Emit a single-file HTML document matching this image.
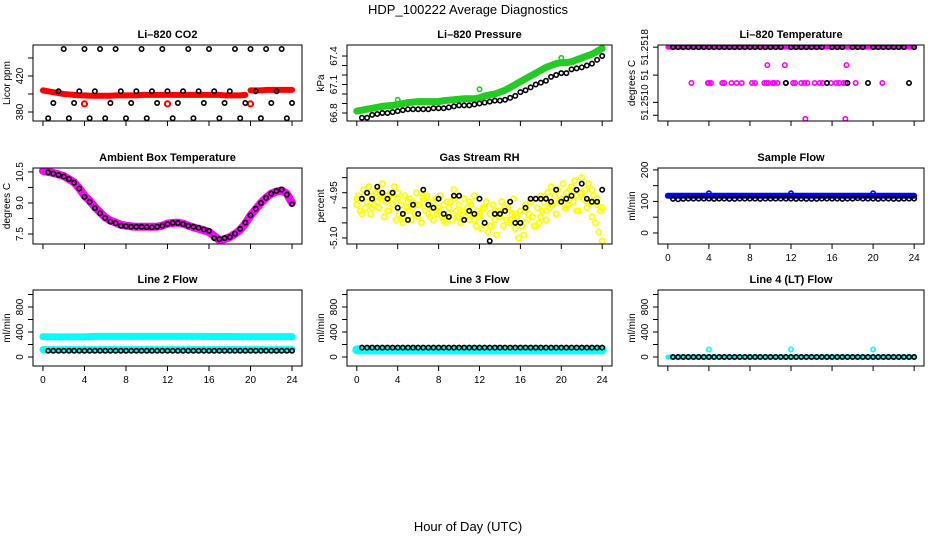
<!DOCTYPE html>
<html><head><meta charset="utf-8"><title>HDP_100222 Average Diagnostics</title>
<style>
html,body{margin:0;padding:0;background:#fff;}
svg{display:block;font-family:"Liberation Sans",sans-serif;}
.t{font-weight:bold;font-size:11px;}
.tk{font-size:10px;}
</style></head>
<body>
<svg id="chart" width="936" height="540" viewBox="0 0 936 540" xmlns="http://www.w3.org/2000/svg">
<text x="468" y="14" text-anchor="middle" font-size="13">HDP_100222  Average Diagnostics</text>
<text x="468" y="531" text-anchor="middle" font-size="13">Hour of Day (UTC)</text>
</svg>
<script>
// ---------- data ----------
const xTicks = [0,4,8,12,16,20,24];
const halfHours = [0.5,1,1.5,2,2.5,3,3.5,4,4.5,5,5.5,6,6.5,7,7.5,8,8.5,9,9.5,10,10.5,11,11.5,12,12.5,13,13.5,14,14.5,15,15.5,16,16.5,17,17.5,18,18.5,19,19.5,20,20.5,21,21.5,22,22.5,23,23.5,24];
const bandHours = [0,0.5,1,1.5,2,2.5,3,3.5,4,4.5,5,5.5,6,6.5,7,7.5,8,8.5,9,9.5,10,10.5,11,11.5,12,12.5,13,13.5,14,14.5,15,15.5,16,16.5,17,17.5,18,18.5,19,19.5,20,20.5,21,21.5,22,22.5,23,23.5,24];
const hourly = [0,1,2,3,4,5,6,7,8,9,10,11,12,13,14,15,16,17,18,19,20,21,22,23,24];

// CO2
const co2Band = [404,403,402,401,400,399.5,399,398.5,398.5,398,398,398,398,398,398.5,398.5,398.5,398.5,398.5,399,399,399,399,399,399,399,399,399,399,399,399,399,399,399,399,398.5,398.5,398.5,398.5,399,404,404,404,404.5,404.5,404.5,404.5,404.5,404.5];
const co2CalHours = [4,12,20];
const co2CalVals = [389,389,389];
const co2Black = [373,390,403,450,373,390,403,450,373,403,450,373,390,450,403,373,390,403,450,373,403,390,450,403,373,390,403,450,373,403,390,450,403,373,390,403,450,373,390,450,403,373,450,390,403,450,373,390];

// Pressure
const presBand = [66.82,66.83,66.84,66.85,66.86,66.87,66.875,66.88,66.89,66.9,66.91,66.915,66.92,66.92,66.92,66.92,66.92,66.93,66.935,66.94,66.945,66.95,66.95,66.95,66.96,66.98,66.99,67.0,67.02,67.04,67.07,67.1,67.13,67.16,67.19,67.22,67.25,67.28,67.3,67.32,67.33,67.33,67.34,67.36,67.38,67.4,67.42,67.45,67.48];
const presOutHours = [4,12,20];
const presOutVals = [66.94,67.05,67.38];
const presBlack = [66.75,66.75,66.78,66.79,66.8,66.8,66.81,66.82,66.83,66.84,66.84,66.84,66.84,66.84,66.85,66.85,66.85,66.86,66.87,66.88,66.88,66.88,66.89,66.9,66.91,66.92,66.93,66.93,66.94,66.96,66.98,67.02,67.04,67.07,67.1,67.12,67.14,67.18,67.2,67.22,67.22,67.26,67.27,67.28,67.3,67.32,67.36,67.4];

// Li-820 temperature
const tempBand = [51.2518,51.2518,51.2518,51.2518,51.2518,51.2518,51.2518,51.2518,51.2518,51.2518,51.2518,51.2518,51.2518,51.2518,51.2518,51.2518,51.2518,51.2518,51.2518,51.2518,51.2518,51.2518,51.2518,51.2518,51.2518];
const tempOffHours = [2.3,3.9,4.0,4.2,5.3,5.5,6.2,6.7,7.2,8.2,8.5,9.4,9.6,9.8,10.2,10.4,10.7,11.5,12.2,12.4,13.0,13.3,13.6,14.3,14.8,15.1,15.9,16.4,16.7,17.1,17.3,18.3,20.9,9.7,11.4,17.4,13.4,17.3];
const tempOffVals = [51.2513,51.2513,51.2513,51.2513,51.2513,51.2513,51.2513,51.2513,51.2513,51.2513,51.2513,51.2513,51.2513,51.2513,51.2513,51.2513,51.2513,51.2513,51.2513,51.2513,51.2513,51.2513,51.2513,51.2513,51.2513,51.2513,51.2513,51.2513,51.2513,51.2513,51.2513,51.2513,51.2513,51.25155,51.25155,51.25155,51.2508,51.2508];
const tempBlackHours = [0.5,1,1.5,2,2.5,3,3.5,4,4.5,5,5.5,6,6.5,7,7.5,8,8.5,9,9.5,10,10.5,11,11.5,12,12.5,13,13.5,14,14.5,15,15.5,16,16.5,17,17.5,18,18.5,19,19.5,20,20.5,21,21.5,22,22.5,23,23.5,24];
const tempBlack = [51.2518,51.2518,51.2518,51.2518,51.2518,51.2518,51.2518,51.2518,51.2518,51.2518,51.2518,51.2518,51.2518,51.2518,51.2518,51.2518,51.2518,51.2518,51.2518,51.2518,51.2518,51.2518,51.2513,51.2518,51.2518,51.2518,51.2518,51.2518,51.2518,51.2518,51.2513,51.2518,51.2518,51.2518,51.2513,51.2518,51.2518,51.2518,51.2513,51.2518,51.2518,51.2518,51.2518,51.2518,51.2518,51.2518,51.2513,51.2518];

// Ambient box temperature
const ambBand = [10.55,10.5,10.45,10.38,10.3,10.15,10.0,9.7,9.35,9.1,8.8,8.55,8.3,8.15,8.05,7.95,7.9,7.87,7.85,7.85,7.85,7.85,7.85,7.9,8.0,8.03,8.05,8.0,7.9,7.82,7.75,7.68,7.6,7.4,7.2,7.25,7.35,7.5,7.7,8.0,8.4,8.7,9.0,9.25,9.45,9.55,9.6,9.45,9.0];
const ambBlack = [10.48,10.42,10.35,10.28,10.15,9.98,9.7,9.3,9.05,8.75,8.5,8.28,8.1,8.02,7.9,7.88,7.85,7.85,7.85,7.83,7.82,7.85,7.9,7.98,8.04,8.03,7.98,7.9,7.85,7.8,7.72,7.65,7.3,7.25,7.3,7.35,7.52,7.75,8.05,8.4,8.72,9.0,9.25,9.45,9.58,9.65,9.4,8.95];

// Gas stream RH (yellow every 10 minutes)
const rhYellow = [-4.99,-4.96,-5.01,-4.97,-4.94,-5.00,-4.98,-4.93,-5.02,-4.96,-4.99,-4.95,-4.94,-5.00,-4.97,-4.92,-5.03,-4.98,-4.96,-5.01,-4.95,-4.99,-4.93,-5.04,-4.97,-5.02,-4.99,-5.05,-4.96,-5.00,-5.01,-4.97,-5.04,-4.98,-5.02,-4.95,-5.03,-4.99,-5.05,-4.97,-5.01,-4.96,-4.98,-5.03,-5.00,-5.04,-4.97,-5.02,-5.00,-4.96,-5.03,-4.99,-5.05,-4.98,-5.02,-4.98,-5.04,-4.94,-5.01,-5.03,-4.99,-5.05,-5.01,-4.97,-5.03,-5.00,-5.04,-4.99,-5.02,-4.96,-5.06,-5.01,-5.03,-5.07,-5.00,-5.05,-4.98,-5.08,-5.02,-5.06,-4.99,-5.04,-5.09,-5.01,-5.03,-4.98,-5.06,-5.01,-5.04,-5.00,-5.05,-5.02,-4.97,-5.07,-5.03,-5.10,-5.01,-5.06,-5.09,-4.99,-5.04,-5.02,-4.98,-5.03,-5.06,-4.97,-5.00,-5.05,-4.96,-5.01,-4.98,-5.04,-4.95,-5.00,-4.93,-4.99,-4.96,-5.02,-4.94,-4.98,-4.97,-4.92,-5.00,-4.95,-4.99,-4.94,-4.93,-4.98,-4.91,-4.96,-5.01,-4.95,-4.90,-4.97,-4.94,-5.00,-4.92,-4.98,-5.03,-4.96,-5.05,-4.99,-5.08,-5.01,-5.11];
const rhYellowB = [-4.97,-5.02,-4.95,-5.00,-4.98,-4.96,-5.01,-4.97,-4.95,-5.03,-4.98,-5.00,-4.99,-4.96,-5.02,-4.98,-5.01,-5.04,-5.00,-4.97,-5.03,-5.01,-4.98,-5.04,-5.02,-5.00,-5.06,-5.01,-5.03,-5.00,-5.04,-5.02,-5.05,-5.01,-4.98,-5.06,-5.03,-5.01,-4.99,-5.02,-4.97,-5.00,-4.96,-5.01,-4.95,-4.98,-4.94,-4.97,-5.00];
const rhBlack = [-4.97,-4.95,-4.97,-4.93,-4.95,-4.97,-4.95,-5.00,-5.02,-5.04,-4.99,-5.02,-4.94,-4.99,-5.00,-4.97,-5.02,-5.03,-4.96,-4.96,-5.04,-5.01,-5.02,-4.97,-5.05,-5.11,-5.02,-5.02,-5.01,-4.98,-5.05,-5.05,-5.00,-4.97,-4.97,-4.97,-4.97,-4.98,-4.94,-4.98,-4.97,-4.96,-4.94,-4.92,-4.97,-4.98,-4.98,-4.94];

// Flows
const sampleBlue = [118,118,118,118,118,118,118,118,118,118,118,118,118,118,118,118,118,118,118,118,118,118,118,118,118];
const sampleOutHours = [4,12,20];
const sampleOutVals = [126,126,126];
const sampleBlack = [108,107,108,109,109,109,109,109,108,109,109,108,108,109,109,109,109,108,109,109,109,109,109,109,108,109,108,108,108,109,109,109,109,108,109,109,110,109,109,109,108,109,109,108,108,109,109,109];
const line2Upper = [325,323,322,323,322,330,330,330,330,330,330,330,330,330,330,330,328,328,328,326,326,326,326,326,326];
const line2Lower = [118,118,118,118,118,118,118,118,118,118,118,118,118,118,118,118,118,118,118,118,118,118,118,118,118];
const line2Black = [100,100,100,100,100,100,100,100,100,100,100,100,100,100,100,100,100,100,100,100,100,100,100,100,100,100,100,100,100,100,100,100,100,100,100,100,100,100,100,100,100,100,100,100,100,100,100,100];
const line3Cyan = [115,115,115,115,115,115,115,115,115,115,115,115,115,115,115,115,115,115,115,115,115,115,115,115,115];
const line3Black = [150,150,150,150,150,150,150,150,150,150,150,150,150,150,150,150,150,150,150,150,150,150,150,150,150,150,150,150,150,150,150,150,150,150,150,150,150,150,150,150,150,150,150,150,150,150,150,150];
const line4Cyan = [0,0,0,0,0,0,0,0,0,0,0,0,0,0,0,0,0,0,0,0,0,0,0,0,0];
const line4OutHours = [4,12,20];
const line4OutVals = [120,120,120];
const line4Black = [0,0,0,0,0,0,0,0,0,0,0,0,0,0,0,0,0,0,0,0,0,0,0,0,0,0,0,0,0,0,0,0,0,0,0,0,0,0,0,0,0,0,0,0,0,0,0,0];

// ---------- drawing ----------
const NS = "http://www.w3.org/2000/svg";
const svg = document.getElementById('chart');
const COLS = [[33,302],[347,612],[658,924]];
const ROWS = [[45,121],[168,244],[290,366]];
const XLIM = [-0.96,24.96];

function el(tag, parent){ const e=document.createElementNS(NS,tag); parent.appendChild(e); return e; }

function makePanel(key, col, row, title, ylab, ylim, yticks, ylabels){
  const [x0,x1]=COLS[col], [y0,y1]=ROWS[row];
  const g = el('g', svg);
  
  
  const sx = v => x0 + (v-XLIM[0])/(XLIM[1]-XLIM[0])*(x1-x0);
  const sy = v => y1 - (v-ylim[0])/(ylim[1]-ylim[0])*(y1-y0);
  const cp = el('clipPath', g); cp.id = 'clip-'+key;
  const cr = el('rect', cp); cr.setAttribute('x',x0); cr.setAttribute('y',y0); cr.setAttribute('width',x1-x0); cr.setAttribute('height',y1-y0);
  const plot = el('g', g);
  plot.setAttribute('clip-path','url(#clip-'+key+')');
  
  
  const box = el('rect', g);
  
  
  box.setAttribute('x',x0); box.setAttribute('y',y0); box.setAttribute('width',x1-x0); box.setAttribute('height',y1-y0);
  box.setAttribute('fill','none'); box.setAttribute('stroke','#000'); box.setAttribute('stroke-width','1');
  const t = el('text', g);
  
  
  t.setAttribute('class','t'); t.setAttribute('x',(x0+x1)/2); t.setAttribute('y',y0-7); t.setAttribute('text-anchor','middle');
  t.textContent = title;
  const yl = el('text', g);
  
  
  yl.setAttribute('class','tk'); yl.setAttribute('text-anchor','middle');
  yl.setAttribute('transform','translate('+(x0-23)+','+((y0+y1)/2)+') rotate(-90)');
  yl.textContent = ylab;
  xTicks.forEach(v=>{
    const l = el('line', g);
    
    
    l.setAttribute('x1',sx(v)); l.setAttribute('x2',sx(v)); l.setAttribute('y1',y1); l.setAttribute('y2',y1+5); l.setAttribute('stroke','#000');
    const tx = el('text', g);
    
    
    tx.setAttribute('class','tk'); tx.setAttribute('x',sx(v)); tx.setAttribute('y',y1+17); tx.setAttribute('text-anchor','middle');
    tx.textContent = String(v);
    if(!((row===1 && col===2) || row===2 && col!==2)) tx.setAttribute('visibility','hidden');
  });
  yticks.forEach((v,i)=>{
    const l = el('line', g);
    
    
    l.setAttribute('x1',x0-5); l.setAttribute('x2',x0); l.setAttribute('y1',sy(v)); l.setAttribute('y2',sy(v)); l.setAttribute('stroke','#000');
    if(ylabels[i]){
      const tx = el('text', g);
      
      
      tx.setAttribute('class','tk'); tx.setAttribute('text-anchor','middle');
      tx.setAttribute('transform','translate('+(x0-10)+','+sy(v)+') rotate(-90)');
      tx.textContent = ylabels[i];
    }
  });
  return {plot, sx, sy};
}

function points(p, xs, ys, color, name, r, sw){
  xs.forEach((x,i)=>{
    const c = el('circle', p.plot);
    
    
    c.setAttribute('cx', p.sx(x)); c.setAttribute('cy', p.sy(ys[i]));
    c.setAttribute('r', r||2.2); c.setAttribute('fill','none'); c.setAttribute('stroke',color); c.setAttribute('stroke-width', sw||1.6);
  });
}
function band(p, xs, ys, color, name, w){
  const pl = el('polyline', p.plot);
  
  
  pl.setAttribute('points', xs.map((x,i)=>p.sx(x)+','+p.sy(ys[i])).join(' '));
  pl.setAttribute('fill','none'); pl.setAttribute('stroke',color); pl.setAttribute('stroke-width',w||6);
  pl.setAttribute('stroke-linejoin','round'); pl.setAttribute('stroke-linecap','round');
}
function seg(arr,a,b){ return arr.slice(a,b); }

// Panel 1: CO2
let p = makePanel('co2',0,0,'Li\u2013820 CO2','Licor ppm',[370,454.4],[380,400,420,440],['380','','420','']);
band(p, seg(bandHours,0,40), seg(co2Band,0,40), '#ff0000','co2-red-series',6);
band(p, seg(bandHours,40,49), seg(co2Band,40,49), '#ff0000','co2-red-series-late',6);
points(p, co2CalHours, co2CalVals, '#ff0000','co2-red-calibration-point',2.6,2);
points(p, halfHours, co2Black, '#000','co2-black-point');

// Panel 2: Pressure
p = makePanel('pressure',1,0,'Li\u2013820 Pressure','kPa',[66.716,67.516],[66.8,66.9,67.0,67.1,67.2,67.3,67.4],['66.8','','','67.1','','','67.4']);
band(p, bandHours, presBand, '#22cc22','pressure-green-series',7);
points(p, presOutHours, presOutVals, '#22cc22','pressure-green-outlier');
points(p, halfHours, presBlack, '#000','pressure-black-point');

// Panel 3: Li-820 temperature
p = makePanel('li820-temp',2,0,'Li\u2013820 Temperature','degrees C',[51.25077,51.25183],[51.2518,51.25141,51.25103,51.25085],['51.2518','51','51.2510','']);
band(p, hourly, tempBand, '#ff00ff','temp-magenta-series',5);
points(p, tempOffHours, tempOffVals, '#ff00ff','temp-magenta-point');
points(p, tempBlackHours, tempBlack, '#000','temp-black-point');

// Panel 4: Ambient
p = makePanel('ambient',0,1,'Ambient Box Temperature','degrees C',[7.016,10.69],[7.5,8.25,9.0,9.75,10.5],['7.5','','9.0','','10.5']);
band(p, bandHours, ambBand, '#ff00ff','ambient-magenta-series',8);
points(p, halfHours, ambBlack, '#000','ambient-black-point');

// Panel 5: RH
p = makePanel('rh',1,1,'Gas Stream RH','percent',[-5.12,-4.868],[-5.10,-5.05,-5.00,-4.95,-4.90],['-5.10','','','-4.95','']);
const rhHours = rhYellow.map((v,i)=>i/6);
points(p, rhHours, rhYellow, '#ffff00','rh-yellow-point',2.6,1.8);
points(p, bandHours, rhYellowB, '#ffff00','rh-yellow-point-b',2.6,1.8);
points(p, halfHours, rhBlack, '#000','rh-black-point');

// Panel 6: Sample flow
p = makePanel('sample-flow',2,1,'Sample Flow','ml/min',[-35,206],[0,50,100,150,200],['0','','100','','200']);
band(p, hourly, sampleBlue, '#0000ff','sample-flow-blue-series',6);
points(p, sampleOutHours, sampleOutVals, '#0000ff','sample-flow-blue-outlier');
points(p, halfHours, sampleBlack, '#000','sample-flow-black-point');

// Panel 7: Line 2
p = makePanel('line2-flow',0,2,'Line 2 Flow','ml/min',[-144,1072],[0,200,400,600,800,1000],['0','','400','','800','']);
band(p, hourly, line2Upper, '#00ffff','line2-cyan-upper-series',7);
band(p, hourly, line2Lower, '#00ffff','line2-cyan-lower-series',7);
points(p, halfHours, line2Black, '#000','line2-black-point');

// Panel 8: Line 3
p = makePanel('line3-flow',1,2,'Line 3 Flow','ml/min',[-144,1072],[0,200,400,600,800,1000],['0','','400','','800','']);
band(p, hourly, line3Cyan, '#00ffff','line3-cyan-series',9);
points(p, halfHours, line3Black, '#000','line3-black-point');

// Panel 9: Line 4
p = makePanel('line4-flow',2,2,'Line 4 (LT) Flow','ml/min',[-144,1072],[0,200,400,600,800,1000],['0','','400','','800','']);
band(p, hourly, line4Cyan, '#00ffff','line4-cyan-series',5);
points(p, line4OutHours, line4OutVals, '#00ffff','line4-cyan-outlier');
points(p, halfHours, line4Black, '#000','line4-black-point');
</script>
</body></html>
